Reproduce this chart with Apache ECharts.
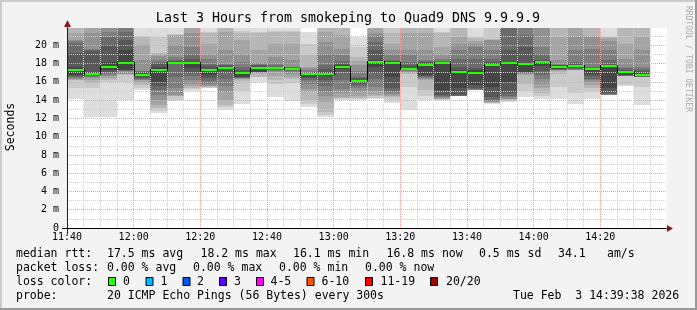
<!DOCTYPE html>
<html><head><meta charset="utf-8">
<script src="https://cdn.jsdelivr.net/npm/echarts@6.0.0/dist/echarts.min.js"></script>
<style>html,body{margin:0;padding:0;background:#f3f3f3;overflow:hidden}#c{width:697px;height:310px}</style>
</head><body><div id="c"></div><script>
// ---------- data ----------
const titleText = 'Last 3 Hours from smokeping to Quad9 DNS 9.9.9.9';
const xLabels = ['11:40','12:00','12:20','12:40','13:00','13:20','13:40','14:00','14:20'];
const yLabels = ['0','2 m','4 m','6 m','8 m','10 m','12 m','14 m','16 m','18 m','20 m'];
const stepMinutes = 5;
// median rtt per 5-minute step (ms)
const medianRtt = [17.27,16.83,17.63,18.07,16.72,17.27,18.07,18.07,17.27,17.52,16.98,17.52,17.52,17.43,16.87,16.87,17.65,16.1,18.18,18.07,17.38,17.85,18.07,17.08,16.98,17.85,18.07,17.96,18.18,17.66,17.73,17.43,17.74,17.09,16.72];
// 20 sorted ping times per step (ms)
const c00 = [14.1,15.3,16.2,16.25,16.3,16.4,16.5,16.6,16.75,17.2,17.35,17.66,19.16,20.3,20.45,20.58,21.3,22.5,23.5,25.0];
const c01 = [12.1,15.3,15.9,16.2,16.4,16.55,16.65,16.7,16.78,16.81,16.85,17.1,19.4,19.5,19.6,21.3,22.0,22.8,23.5,24.5];
const c02 = [12.1,16.0,16.2,16.45,16.6,16.8,16.95,17.1,17.3,17.6,17.66,18.2,20.0,20.9,21.45,22.5,23.0,24.0,25.0,26.0];
const c03 = [14.0,16.0,16.8,16.85,16.9,17.2,17.22,17.25,17.27,18.03,18.1,19.47,20.55,21.46,22.5,23.0,23.5,24.0,25.0,26.0];
const c04 = [15.1,15.3,15.7,16.0,16.2,16.25,16.3,16.4,16.6,16.7,16.75,16.85,17.1,17.15,17.2,18.4,20.0,20.9,21.0,23.0];
const c05 = [12.55,12.8,13.1,13.5,14.0,14.6,15.1,15.6,16.0,17.25,17.3,17.66,18.0,18.2,18.4,18.8,19.1,19.15,20.9,23.0];
const c06 = [13.9,14.0,14.45,14.5,14.55,15.3,16.55,18.0,18.02,18.04,18.1,18.2,18.3,18.4,18.7,20.0,21.1,21.15,21.2,23.0];
const c07 = [15.05,15.2,15.3,15.5,15.8,16.2,16.6,17.0,17.5,18.04,18.1,18.2,18.5,19.0,19.8,21.3,22.5,23.0,24.0,25.0];
const c08 = [15.3,15.35,15.4,15.5,15.6,15.8,16.1,16.4,16.7,17.25,17.3,17.45,17.7,18.0,18.5,19.1,20.2,21.3,21.5,23.0];
const c09 = [12.9,13.2,13.5,14.0,14.9,15.6,16.36,17.0,17.45,17.5,17.55,17.66,17.8,17.9,18.0,19.47,21.46,22.5,23.0,24.0];
const c10 = [13.56,15.0,16.1,16.3,16.35,16.4,16.45,16.5,16.55,16.96,17.0,17.1,17.3,17.6,18.18,19.0,20.55,21.3,21.6,23.0];
const c11 = [16.0,16.5,16.55,17.0,17.02,17.04,17.06,17.08,17.1,17.5,17.55,17.66,17.8,17.9,18.0,18.1,19.47,21.3,21.5,23.0];
const c12 = [14.3,15.8,16.2,16.6,17.1,17.2,17.3,17.4,17.45,17.5,17.55,17.6,17.66,17.8,18.0,18.75,20.2,21.46,21.6,23.0];
const c13 = [13.9,15.9,16.3,16.55,16.9,17.1,17.15,17.25,17.35,17.41,17.45,17.5,17.55,17.6,17.66,18.4,20.2,21.46,21.6,23.0];
const c14 = [13.3,13.6,14.0,14.9,15.2,15.8,16.2,16.4,16.55,16.85,16.9,16.95,17.0,17.1,17.3,17.5,17.66,18.9,20.2,21.46];
const c15 = [12.15,12.4,12.7,13.8,14.4,14.89,15.5,16.16,16.6,16.85,16.9,17.07,17.4,17.8,19.0,20.36,21.46,22.5,23.0,24.0];
const c16 = [14.0,14.1,14.2,14.35,14.8,15.25,16.2,17.07,17.4,17.6,17.7,17.8,18.0,18.3,18.9,19.65,21.1,22.5,23.0,24.0];
const c17 = [14.0,14.1,14.2,14.4,14.9,15.3,15.5,15.8,16.0,16.08,16.12,16.2,16.4,16.55,17.2,17.8,18.3,18.7,19.8,20.9];
const c18 = [14.17,14.25,14.4,14.55,15.0,15.47,16.3,17.0,17.66,18.16,18.2,18.4,19.47,20.4,21.0,21.3,22.5,23.0,24.0,25.0];
const c19 = [13.65,14.0,14.3,14.45,14.6,14.75,15.0,15.3,16.55,18.04,18.1,18.2,18.3,18.4,19.0,19.47,20.2,21.3,22.5,23.0];
const c20 = [12.95,15.47,16.9,17.0,17.1,17.2,17.27,17.28,17.3,17.34,17.42,17.45,17.82,18.2,19.0,19.47,21.3,22.5,23.0,24.0];
const c21 = [14.0,14.5,15.1,16.2,16.3,16.4,16.5,16.6,16.7,17.8,17.9,18.0,18.2,18.3,18.4,19.47,21.3,22.5,23.0,24.0];
const c22 = [14.0,14.05,14.1,14.15,14.2,14.3,14.4,14.55,15.1,18.04,18.1,18.15,18.18,18.3,18.55,19.0,19.8,21.3,21.5,23.0];
const c23 = [14.4,14.41,14.42,14.44,14.46,14.48,14.5,14.55,15.3,17.06,17.1,17.3,17.66,18.5,19.47,20.2,20.9,22.5,23.0,24.0];
const c24 = [15.07,15.08,15.09,15.1,15.12,15.15,15.2,15.3,15.63,16.96,17.0,17.27,17.5,18.5,19.8,20.2,20.5,20.8,20.9,23.0];
const c25 = [13.6,13.65,13.7,13.75,13.8,13.9,14.0,14.38,15.47,17.83,17.87,17.93,18.18,18.5,19.47,20.55,20.6,20.65,22.5,23.0];
const c26 = [13.85,13.9,14.0,14.1,14.15,14.3,14.5,14.75,16.0,18.04,18.1,18.18,19.47,22.5,23.0,23.5,24.0,25.0,26.0,27.0];
const c27 = [14.3,15.0,15.8,16.8,16.9,16.95,17.0,17.05,17.1,17.92,18.0,18.1,19.8,21.1,22.5,23.0,23.5,24.0,25.0,26.0];
const c28 = [14.15,14.4,14.75,15.3,15.8,16.3,16.72,17.2,17.7,18.16,18.2,18.3,18.4,19.0,19.8,22.5,23.0,23.5,24.0,25.0];
const c29 = [14.15,15.47,16.9,17.2,17.27,17.3,17.35,17.4,17.45,17.62,17.7,17.75,17.8,17.85,18.0,18.4,20.9,22.5,23.0,24.0];
const c30 = [13.6,14.75,17.27,17.28,17.3,17.35,17.4,17.5,17.6,17.7,17.76,17.85,18.0,18.18,19.47,20.9,22.5,23.0,24.0,25.0];
const c31 = [14.1,14.9,15.3,15.7,16.0,16.2,16.36,16.6,16.9,17.41,17.45,17.5,17.55,17.66,19.65,20.9,21.0,22.5,23.0,24.0];
const c32 = [14.55,14.555,14.56,14.57,14.58,14.6,14.65,14.75,15.3,17.7,17.78,17.85,18.0,18.4,19.5,20.5,20.85,20.88,20.9,23.0];
const c33 = [15.52,15.63,16.6,16.62,16.64,16.66,16.68,16.7,16.72,17.06,17.12,17.2,17.27,17.5,17.66,18.5,20.2,22.5,23.0,24.0];
const c34 = [13.45,15.47,16.5,16.52,16.54,16.56,16.58,16.6,16.62,16.66,16.78,16.9,17.2,17.4,17.66,19.47,20.9,22.5,23.0,24.0];
const pingColumns = [c00,c01,c02,c03,c04,c05,c06,c07,c08,c09,c10,c11,c12,c13,c14,c15,c16,c17,c18,c19,c20,c21,c22,c23,c24,c25,c26,c27,c28,c29,c30,c31,c32,c33,c34];

// legend texts
const medianLabel = 'median rtt:';
const medianStats = ['17.5 ms avg','18.2 ms max','16.1 ms min','16.8 ms now','0.5 ms sd','34.1','am/s'];
const lossLabel = 'packet loss:';
const lossStats = ['0.00 % avg','0.00 % max','0.00 % min','0.00 % now'];
const lossColorLabel = 'loss color:';
const lossColors = ['#26ff00','#00b8ff','#0059ff','#5e00ff','#ff00ff','#ff5500','#ff0000','#a00000'];
const lossNames = ['0','1','2','3','4-5','6-10','11-19','20/20'];
const probeLabel = 'probe:';
const probeText = '20 ICMP Echo Pings (56 Bytes) every 300s';
const dateText = 'Tue Feb  3 14:39:38 2026';
const watermark = 'RRDTOOL / TOBI OETIKER';
const yTitle = 'Seconds';

// ---------- layout ----------
const MONO = '"DejaVu Sans Mono"';
const font = s => 'normal ' + s + 'px ' + MONO;
const medianStatX = [107, 200.5, 293, 386.5, 479, 558, 607];
const lossStatX = [107, 193, 279, 365];
const boxX = [108, 145.5, 182.5, 219, 256, 306.5, 365, 430];
const boxLabelX = [123, 160.5, 197, 234, 270.5, 321.5, 380.5, 446];
const rowY = [254, 268, 282, 296];

const smokeData = [];
pingColumns.forEach((col, i) => {
  for (let k = 0; k < col.length - 1; k++) {
    smokeData.push([i * stepMinutes, col[k], col[k + 1], Math.min(k + 1, col.length - 1 - k)]);
  }
});
const half = 10;
const shade = r => { const v = Math.floor(190 / half * (half - r)) + 50; return 'rgb(' + v + ',' + v + ',' + v + ')'; };
const medianData = medianRtt.map((m, i) => [i * stepMinutes, m, i > 0 ? medianRtt[i - 1] : m]);

function txt(x, y, text, size, opts) {
  opts = opts || {};
  return Object.assign({ type: 'text', x: x, y: y, z: 20, silent: true,
    style: { text: text, font: font(size), fill: opts.fill || '#000',
      align: opts.align || 'left', verticalAlign: 'middle', textAlign: opts.align || 'left', textVerticalAlign: 'middle' } },
    opts.rotation !== undefined ? { rotation: opts.rotation } : {});
}

const graphics = [
  // frame shading
  { type: 'rect', z: 20, shape: { x: 0, y: 0, width: 697, height: 2 }, style: { fill: '#cbcbcb' } },
  { type: 'rect', z: 20, shape: { x: 0, y: 0, width: 2, height: 310 }, style: { fill: '#cbcbcb' } },
  { type: 'rect', z: 20, shape: { x: 0, y: 308, width: 697, height: 2 }, style: { fill: '#999999' } },
  { type: 'rect', z: 20, shape: { x: 695, y: 0, width: 2, height: 310 }, style: { fill: '#999999' } },
  // axis lines and arrows
  { type: 'rect', z: 20, shape: { x: 62, y: 228, width: 607, height: 1 }, style: { fill: '#000' } },
  { type: 'rect', z: 20, shape: { x: 67, y: 25, width: 1, height: 209 }, style: { fill: '#3a1010' } },
  { type: 'polygon', z: 21, shape: { points: [[667, 225], [673, 228.5], [667, 232]] }, style: { fill: '#8b1a1a' } },
  { type: 'polygon', z: 21, shape: { points: [[64, 27], [67.5, 20], [71, 27]] }, style: { fill: '#8b1a1a' } },
  txt(348, 19, titleText, 13.3, { align: 'center' }),
  txt(11, 127, yTitle, 11.5, { align: 'center', rotation: Math.PI / 2 }),
  txt(688, 59, watermark, 8, { align: 'center', rotation: -Math.PI / 2, fill: '#aaaaaa' }),
  txt(16, rowY[0], medianLabel, 11.5),
  txt(16, rowY[1], lossLabel, 11.5),
  txt(16, rowY[2], lossColorLabel, 11.5),
  txt(16, rowY[3], probeLabel, 11.5),
  txt(107, rowY[3], probeText, 11.5),
  txt(513, rowY[3], dateText, 11.5)
];
medianStats.forEach((s, i) => graphics.push(txt(medianStatX[i], rowY[0], s, 11.5)));
lossStats.forEach((s, i) => graphics.push(txt(lossStatX[i], rowY[1], s, 11.5)));
lossColors.forEach((c, i) => {
  graphics.push({ type: 'rect', z: 20, shape: { x: boxX[i] + 0.5, y: rowY[2] - 4.5, width: 7, height: 8 }, style: { fill: c, stroke: '#000', lineWidth: 1 } });
  graphics.push(txt(boxLabelX[i], rowY[2], lossNames[i], 11.5));
});

const chart = echarts.init(document.getElementById('c'), null, { renderer: 'canvas' });
chart.setOption({
  animation: false,
  backgroundColor: '#f3f3f3',
  grid: { left: 67, top: 28, width: 600, height: 200, show: true, backgroundColor: '#ffffff', borderWidth: 0, containLabel: false, outerBoundsMode: 'none' },
  xAxis: {
    type: 'value', min: 0, max: 180, interval: 20, z: 3,
    axisLine: { show: false }, axisTick: { show: false },
    axisLabel: { color: '#000', fontFamily: 'DejaVu Sans Mono', fontSize: 10, margin: 4,
      formatter: v => xLabels[Math.round(v / 20)] !== undefined && v % 20 === 0 ? xLabels[v / 20] : '' , hideOverlap: false},
    splitLine: { show: true, showMaxLine: false, lineStyle: { color: '#f0a0a0', type: 'dotted', width: 1 } },
    minorTick: { show: false, splitNumber: 4 },
    minorSplitLine: { show: true, lineStyle: { color: '#cfcfcf', type: 'dotted', width: 1 } }
  },
  yAxis: {
    type: 'value', min: 0, max: 21.9, interval: 2, z: 3,
    axisLine: { show: false }, axisTick: { show: false },
    axisLabel: { color: '#000', fontFamily: 'DejaVu Sans Mono', fontSize: 10, margin: 8, hideOverlap: false,
      formatter: v => { const i = Math.round(v / 2); return Math.abs(v - i * 2) < 1e-6 && yLabels[i] !== undefined ? yLabels[i] : ''; } },
    splitLine: { show: true, showMaxLine: false, showMinLine: false, lineStyle: { color: '#f0a0a0', type: 'dotted', width: 1 } },
    minorTick: { show: false, splitNumber: 2 },
    minorSplitLine: { show: true, lineStyle: { color: '#cfcfcf', type: 'dotted', width: 1 } }
  },
  series: [
    {
      type: 'custom', z: 1, silent: true, data: smokeData,
      renderItem: (params, api) => {
        const t = api.value(0), lo = api.value(1), hi = api.value(2), r = api.value(3);
        const p0 = api.coord([t, hi]), p1 = api.coord([t + stepMinutes, lo]);
        const x0 = Math.round(p0[0]), x1 = Math.round(p1[0]);
        const y0 = Math.round(p0[1]), y1 = Math.round(p1[1]);
        const cs = params.coordSys;
        const rect = echarts.graphic.clipRectByRect({ x: x0, y: y0, width: x1 - x0, height: y1 - y0 },
          { x: cs.x, y: cs.y, width: cs.width, height: cs.height });
        if (!rect || rect.height <= 0) return null;
        return { type: 'rect', shape: rect, style: { fill: shade(r) } };
      }
    },
    {
      type: 'custom', z: 5, silent: true, data: medianData,
      renderItem: (params, api) => {
        const t = api.value(0), m = api.value(1), prev = api.value(2);
        const a = api.coord([t, m]), b = api.coord([t + stepMinutes, m]), pp = api.coord([t, prev]);
        const x0 = Math.round(a[0]), x1 = Math.round(b[0]);
        const y = Math.round(a[1]), yp = Math.round(pp[1]);
        const children = [];
        if (params.dataIndex > 0 && yp !== y) {
          children.push({ type: 'rect', shape: { x: x0, y: Math.min(y, yp) - 1, width: 1, height: Math.abs(y - yp) + 2 }, style: { fill: '#000' } });
        }
        children.push({ type: 'rect', shape: { x: x0 + (params.dataIndex > 0 && yp !== y ? 1 : 0), y: y - 1, width: x1 - x0 - (params.dataIndex > 0 && yp !== y ? 1 : 0), height: 2 }, style: { fill: '#26ff00' } });
        return { type: 'group', children: children };
      }
    }
  ],
  graphic: { elements: graphics }
});
</script></body></html>
